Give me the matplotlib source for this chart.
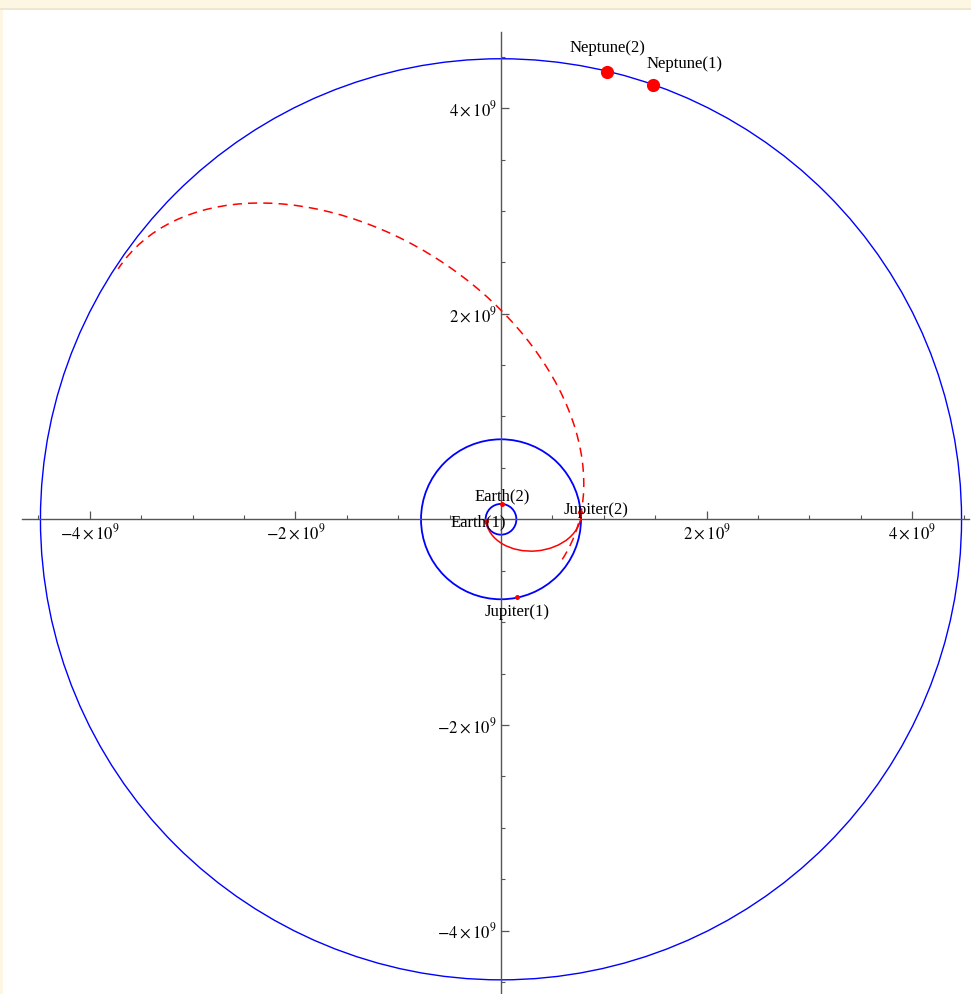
import numpy as np
import matplotlib
matplotlib.use("Agg")
import matplotlib.pyplot as plt
from matplotlib.patches import Circle, Arc, Rectangle
from matplotlib.ticker import FixedLocator, FixedFormatter, MultipleLocator

plt.rcParams['font.family'] = ['Liberation Serif', 'DejaVu Serif']
plt.rcParams['mathtext.fontset'] = 'stix'

# orbit radii (km)
orbit_radii = [1.496e8, 7.78e8, 4.48e9]   # Earth, Jupiter, Neptune

# transfer orbits: perihelion r, aphelion r, perihelion direction (deg)
transfer_rp = [1.45e8, 7.12e8]
transfer_ra = [7.80e8, 4.45e9]
transfer_omega = [185.0, -33.2]
transfer_style = ['-', '--']

# planet positions (km)
body_names = ['Earth(1)', 'Earth(2)', 'Jupiter(1)', 'Jupiter(2)', 'Neptune(1)', 'Neptune(2)']
body_x = [-1.46e8, 0.007e9, 0.158e9, 0.77e9, 1.48e9, 1.035e9]
body_y = [-0.018e9, 0.149e9, -0.757e9, 0.07e9, 4.22e9, 4.35e9]
body_big = [False, False, False, False, True, True]
# label offsets in pixels (dx right, dy down)
label_dx = [-8, 0, 0, 16, 31, 0]
label_dy = [1, -8, 15, -2, -21, -24]

tick_major = [-4e9, -2e9, 2e9, 4e9]
tick_text = [r'$-4\times10^{9}$', r'$-2\times10^{9}$', r'$2\times10^{9}$', r'$4\times10^{9}$']

W, H = 971, 994
fig = plt.figure(figsize=(W / 100, H / 100), dpi=100)
fig.patch.set_facecolor('#fdf6e3')
fig.patches.append(Rectangle((3 / W, 0), 1 - 3 / W, 1 - 9 / H, transform=fig.transFigure,
                             facecolor='white', edgecolor='none', zorder=-2))
fig.patches.append(Rectangle((0, 1 - 10 / H), 1, 2 / H, transform=fig.transFigure,
                             facecolor='#efe6d2', edgecolor='none', zorder=-2))

ax = fig.add_axes([22 / W, 0, 947 / W, 962 / H])
ax.patch.set_alpha(0)
scale = 102.8 / 1e9   # px per km
ox, oy = 501, 519.3
ax.set_xlim((22 - ox) / scale, (969 - ox) / scale)
ax.set_ylim((oy - 994) / scale, (oy - 32) / scale)

for r in orbit_radii:
    lw = 1.0 if r > 1e9 else 1.3
    ax.add_patch(Circle((0, 0), r, fill=False, edgecolor='#0000ff', lw=lw, zorder=2))

for rp, ra, om, ls in zip(transfer_rp, transfer_ra, transfer_omega, transfer_style):
    a = (rp + ra) / 2
    b = np.sqrt(rp * ra)
    u = np.array([np.cos(np.radians(om)), np.sin(np.radians(om))])
    c = (rp - ra) / 2 * u
    arc = Arc((c[0], c[1]), 2 * a, 2 * b, angle=om, theta1=0, theta2=180,
              edgecolor='#ff0000', lw=1.1, zorder=3)
    if ls == '--':
        arc.set_linestyle((0, (6, 4)))
    ax.add_patch(arc)

for name, x, y, big, dx, dy in zip(body_names, body_x, body_y, body_big, label_dx, label_dy):
    ax.plot(x, y, 'o', color='#ff0000', ms=9.5 if big else 3.6, mew=0, zorder=5)
    ax.annotate(name, (x, y), xytext=(dx * 0.72, -dy * 0.72), textcoords='offset points',
                ha='center', va='center', fontsize=12, zorder=6)

for s in ['top', 'right']:
    ax.spines[s].set_visible(False)
for s in ['left', 'bottom']:
    ax.spines[s].set_position('zero')
    ax.spines[s].set_color('#555555')
    ax.spines[s].set_linewidth(1.0)

for axis in [ax.xaxis, ax.yaxis]:
    axis.set_major_locator(FixedLocator(tick_major))
    axis.set_major_formatter(FixedFormatter(tick_text))
    axis.set_minor_locator(MultipleLocator(0.5e9))
ax.tick_params(which='major', direction='in', length=5.5, width=0.9, color='#555555',
               labelsize=12, pad=3)
ax.tick_params(which='minor', direction='in', length=3, width=0.8, color='#555555')

fig.savefig('out.png', dpi=100, facecolor=fig.get_facecolor())
